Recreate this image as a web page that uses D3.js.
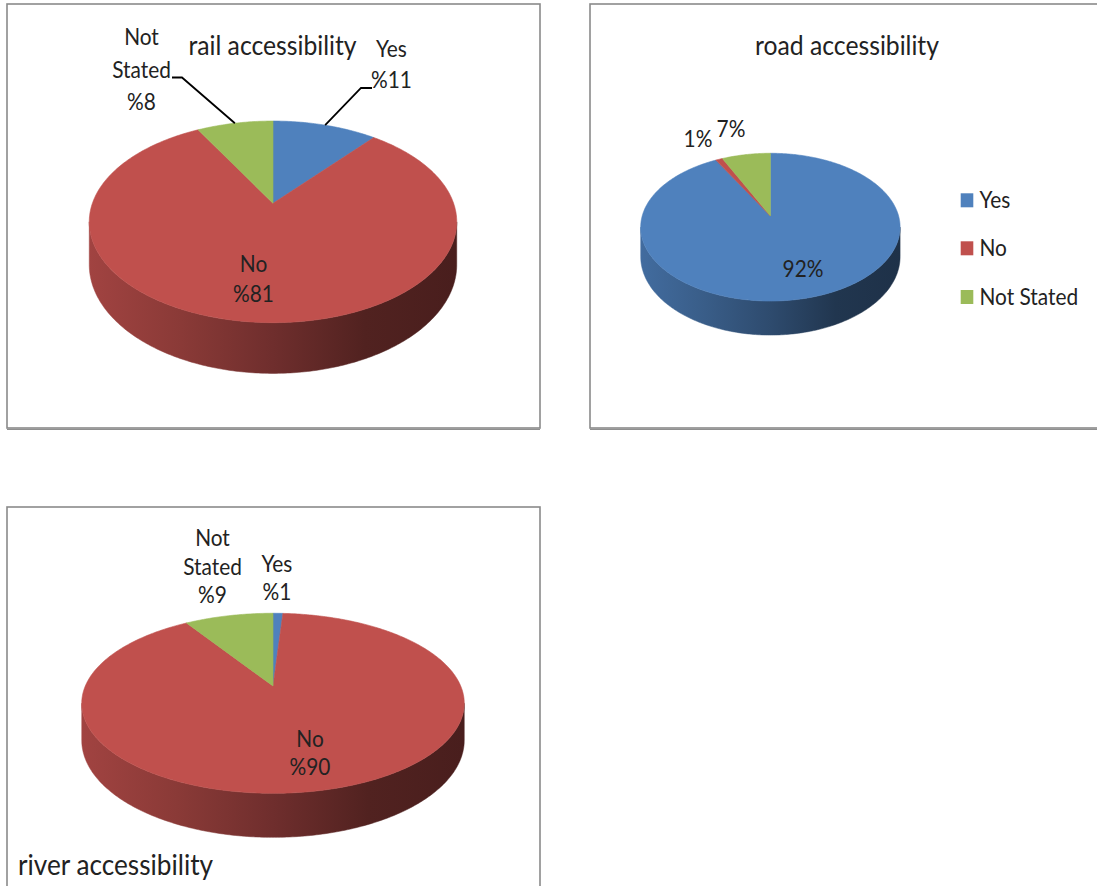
<!DOCTYPE html>
<html>
<head>
<meta charset="utf-8">
<script src="https://cdn.jsdelivr.net/npm/d3@7"></script>
<style>
  html, body { margin: 0; padding: 0; background: #ffffff; }
  svg { display: block; }
  text { font-family: Lato, "Open Sans", "DejaVu Sans", sans-serif; fill: #222222; }
</style>
</head>
<body>
<svg id="chart" width="1097" height="886"></svg>
<script>
// ---- data ----
const categories = ["Yes", "No", "Not Stated"];
const railValues = [11, 81, 8];
const roadValues = [92, 1, 7];
const riverValues = [1, 90, 9];
const titles = ["rail accessibility", "road accessibility", "river accessibility"];
const sliceColors = ["#4F81BD", "#C0504D", "#9BBB59"];

// ---- layout ----
const TEXT_SX = 0.97;         // horizontal text scaling
const TEXT_SY = 1.06;         // vertical text scaling
const LABEL_SIZE = 21.5;

const charts = [
  {
    key: "rail", values: railValues, title: titles[0],
    box: { x: 7, y: 4, w: 533, h: 424 },
    titlePos: { x: 272.5, y: 55, anchor: "middle", size: 25.5 },
    pie: { cx: 273, cy: 203.3, A: 180.6, B: 97.4, k: 0.184, H: 41.4 },
    fmt: v => "%" + v, withName: true,
    labels: [
      { x: 391.5, y: 56.7, lh: 31.5, leader: { x0: 372, x1: 361, y: 88 } },
      { x: 253.5, y: 271.7, lh: 30 },
      { x: 141.5, y: 45, lh: 32.5, leader: { x0: 172, x1: 182, y: 77.5 } }
    ]
  },
  {
    key: "road", values: roadValues, title: titles[1],
    box: { x: 590, y: 4, w: 520, h: 424 },
    titlePos: { x: 847, y: 55, anchor: "middle", size: 25.5 },
    pie: { cx: 770.4, cy: 216, A: 128.2, B: 72.2, k: 0.151, H: 28.9 },
    fmt: v => v + "%", withName: false,
    labels: [
      { x: 803, y: 276.7, lh: 0 },
      { x: 698, y: 146.7, lh: 0 },
      { x: 731, y: 136.7, lh: 0 }
    ],
    legend: { x: 960.7, y: [200.3, 248.3, 297], w: 12.6, h: 14, tx: 979.5 }
  },
  {
    key: "river", values: riverValues, title: titles[2],
    box: { x: 7, y: 507, w: 533, h: 400 },
    titlePos: { x: 18, y: 875, anchor: "start", size: 27 },
    pie: { cx: 273, cy: 686, A: 187.7, B: 86.7, k: 0.192, H: 35.6 },
    fmt: v => "%" + v, withName: true,
    labels: [
      { x: 277, y: 572, lh: 28 },
      { x: 310, y: 746.7, lh: 28.5 },
      { x: 212.5, y: 546, lh: 28.5 }
    ]
  }
];

const svg = d3.select("#chart");
const defs = svg.append("defs");

const pieGen = d3.pie().sort(null).value(d => d.value)
  .startAngle(0).endAngle(2 * Math.PI);

// Perspective-style mapping of a point on the unit disc (angle clockwise from 12 o'clock)
function project(p, th, r = 1) {
  const u = r * Math.sin(th), v = -r * Math.cos(th);
  const w = 1 - p.k * v;
  return [p.cx + p.A * u / w, p.cy + p.B * v / w, w];
}
function angleSteps(a0, a1) {
  const n = Math.max(2, Math.ceil((a1 - a0) / (Math.PI / 240)));
  return d3.range(n + 1).map(i => a0 + (a1 - a0) * i / n);
}
const line = d3.line();

function shade(hex, f) {
  const c = d3.rgb(hex);
  return d3.rgb(c.r * f, c.g * f, c.b * f).formatHex();
}

function addText(g, str, x, y, size, anchor) {
  return g.append("text")
    .attr("transform", `translate(${x},${y}) scale(${TEXT_SX},${TEXT_SY})`)
    .attr("text-anchor", anchor || "middle")
    .style("font-size", size + "px")
    .text(str);
}

charts.forEach(ch => {
  const g = svg.append("g").attr("class", "panel-" + ch.key);
  const b = ch.box, p = ch.pie;

  // chart area frame with a soft drop shadow on the lower edge
  g.append("rect").attr("x", b.x).attr("y", b.y).attr("width", b.w).attr("height", b.h)
    .attr("fill", "#ffffff").attr("stroke", "#8a8a8a").attr("stroke-width", 1.6);
  g.append("line").attr("x1", b.x).attr("x2", b.x + b.w).attr("y1", b.y + b.h + 1.4).attr("y2", b.y + b.h + 1.4)
    .attr("stroke", "#8f8f8f").attr("stroke-width", 1.4);

  const data = categories.map((c, i) => ({ name: c, value: ch.values[i], color: sliceColors[i] }));
  const arcs = pieGen(data);

  // side wall gradients (lit from the left)
  arcs.forEach((a, i) => {
    const grad = defs.append("linearGradient")
      .attr("id", `side-${ch.key}-${i}`)
      .attr("gradientUnits", "userSpaceOnUse")
      .attr("x1", p.cx - p.A * 1.02).attr("x2", p.cx + p.A * 1.02)
      .attr("y1", 0).attr("y2", 0);
    [[0, 0.84], [0.25, 0.72], [0.5, 0.58], [0.75, 0.42], [1, 0.38]].forEach(([o, f]) => {
      grad.append("stop").attr("offset", o).attr("stop-color", shade(a.data.color, f));
    });
  });

  // outer wall: only the front part between the two silhouette points is visible
  const thR = Math.acos(-p.k), thL = 2 * Math.PI - thR;
  arcs.forEach((a, i) => {
    const lo = Math.max(a.startAngle, thR), hi = Math.min(a.endAngle, thL);
    if (hi <= lo) return;
    const ts = angleSteps(lo, hi);
    const top = ts.map(t => project(p, t));
    const bot = top.map(q => [q[0], q[1] + p.H / q[2]]).reverse();
    g.append("path")
      .attr("d", line([...top.map(q => [q[0], q[1]]), ...bot]) + "Z")
      .attr("fill", `url(#side-${ch.key}-${i})`)
      .attr("stroke", `url(#side-${ch.key}-${i})`).attr("stroke-width", 0.5);
  });

  // top faces
  arcs.forEach(a => {
    const pts = [[p.cx, p.cy], ...angleSteps(a.startAngle, a.endAngle).map(t => project(p, t).slice(0, 2))];
    g.append("path").attr("d", line(pts) + "Z")
      .attr("fill", a.data.color).attr("stroke", a.data.color).attr("stroke-width", 0.6)
      .attr("stroke-linejoin", "round");
  });

  // leader lines
  arcs.forEach((a, i) => {
    const L = ch.labels[i].leader;
    if (!L) return;
    const mid = (a.startAngle + a.endAngle) / 2;
    const rim = project(p, mid);
    g.append("path")
      .attr("d", line([[L.x0, L.y], [L.x1, L.y], [rim[0], rim[1]]]))
      .attr("fill", "none").attr("stroke", "#000").attr("stroke-width", 1.8);
  });

  // data labels
  arcs.forEach((a, i) => {
    const pos = ch.labels[i];
    const lines = ch.withName ? [...a.data.name.split(" "), ch.fmt(a.data.value)] : [ch.fmt(a.data.value)];
    lines.forEach((s, j) => addText(g, s, pos.x, pos.y + j * pos.lh, LABEL_SIZE, "middle"));
  });

  // title
  addText(g, ch.title, ch.titlePos.x, ch.titlePos.y, ch.titlePos.size, ch.titlePos.anchor);

  // legend
  if (ch.legend) {
    const L = ch.legend;
    data.forEach((d, i) => {
      g.append("rect").attr("x", L.x).attr("y", L.y[i] - L.h / 2).attr("width", L.w).attr("height", L.h)
        .attr("fill", d.color);
      addText(g, d.name, L.tx, L.y[i] + 7.5, LABEL_SIZE, "start");
    });
  }
});
</script>
</body>
</html>
